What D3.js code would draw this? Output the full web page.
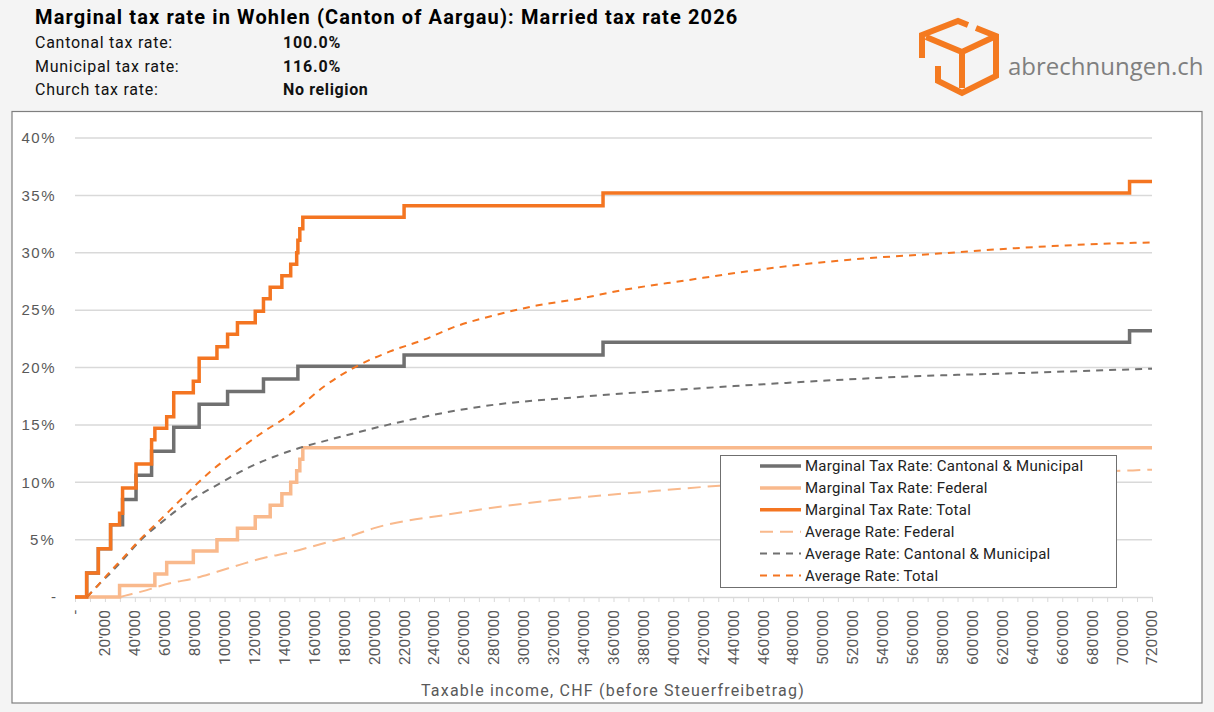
<!DOCTYPE html>
<html lang="en">
<head>
<meta charset="utf-8">
<style>
  body { margin: 0; background: #f4f4f4; }
  svg { display: block; font-family: Roboto, "DejaVu Sans", sans-serif; }
  .axis text { fill: #595959; }
</style>
</head>
<body>
<script src="https://d3js.org/d3.v7.min.js"></script>
<script>
// ---- data (income in CHF, rates in %) ----
var xTicks = d3.range(0, 720001, 20000);
var yTicks = [0, 5, 10, 15, 20, 25, 30, 35, 40];

var cmIncome = [0, 7800, 15600, 23800, 31800, 40800, 51200, 66000, 83000, 102000, 126000, 149000, 220000, 353000, 705000, 720000];
var cmRate   = [0, 2.1, 4.2, 6.3, 8.5, 10.6, 12.7, 14.8, 16.8, 17.9, 19.0, 20.1, 21.1, 22.2, 23.2, 23.2];

var fedIncome = [0, 29800, 53400, 61300, 79100, 94900, 108600, 120500, 130500, 138300, 144200, 148200, 150300, 152300, 720000];
var fedRate   = [0, 1, 2, 3, 4, 5, 6, 7, 8, 9, 10, 11, 12, 13, 13];

var totIncome = [0, 7800, 15600, 23800, 29800, 31800, 40800, 51200, 53400, 61300, 66000, 79100, 83000, 94900, 102000, 108600, 120500, 126000, 130500, 138300, 144200, 148200, 149000, 150300, 152300, 220000, 353000, 705000, 720000];
var totRate   = [0, 2.1, 4.2, 6.3, 7.3, 9.5, 11.6, 13.7, 14.7, 15.7, 17.8, 18.8, 20.8, 21.8, 22.9, 23.9, 24.9, 26.0, 27.0, 28.0, 29.0, 30.0, 31.1, 32.1, 33.1, 34.1, 35.2, 36.2, 36.2];

var avgFedIncome = [30000, 33000, 48000, 63500, 79000, 95000, 110000, 126000, 144000, 164000, 184000, 200000, 250000, 317000, 384000, 431000, 500000, 600000, 700000, 720000];
var avgFedRate   = [0, 0.1, 0.6, 1.2, 1.6, 2.2, 2.8, 3.4, 3.9, 4.6, 5.3, 6.0, 7.2, 8.4, 9.2, 9.7, 10.2, 10.7, 11.0, 11.1];

var avgCmIncome = [8000, 15600, 23800, 31800, 43400, 56800, 74700, 96900, 114800, 132600, 150400, 170000, 209000, 271600, 334000, 407500, 481000, 554000, 628000, 720000];
var avgCmRate   = [0, 1.05, 2.1, 3.2, 4.9, 6.4, 8.2, 9.9, 11.2, 12.2, 13.0, 13.7, 15.0, 16.6, 17.4, 18.1, 18.7, 19.2, 19.5, 19.9];

var avgTotIncome = [8000, 15600, 23400, 30000, 43400, 56800, 72400, 90200, 108000, 126000, 143700, 150400, 166000, 188300, 210600, 232800, 255000, 282000, 308600, 337600, 364000, 409000, 462000, 518000, 574000, 629000, 692000, 720000];
var avgTotRate   = [0, 1.05, 2.2, 3.1, 5.0, 6.7, 8.7, 10.9, 12.7, 14.4, 15.9, 16.6, 18.3, 20.1, 21.4, 22.4, 23.6, 24.6, 25.4, 26.0, 26.7, 27.6, 28.6, 29.4, 29.9, 30.4, 30.8, 30.9];

var orange = "#f47521", grey = "#707070", light = "#f9b98c";

var series = [
  {name: "Marginal Tax Rate: Cantonal & Municipal", x: cmIncome, y: cmRate, color: grey, w: 3.5, dash: null, step: true},
  {name: "Marginal Tax Rate: Federal", x: fedIncome, y: fedRate, color: light, w: 3.5, dash: null, step: true},
  {name: "Marginal Tax Rate: Total", x: totIncome, y: totRate, color: orange, w: 3.5, dash: null, step: true},
  {name: "Average Rate: Federal", x: avgFedIncome, y: avgFedRate, color: light, w: 2, dash: "13,7", step: false},
  {name: "Average Rate: Cantonal & Municipal", x: avgCmIncome, y: avgCmRate, color: grey, w: 2, dash: "7,6", step: false},
  {name: "Average Rate: Total", x: avgTotIncome, y: avgTotRate, color: orange, w: 2, dash: "7,6", step: false}
];

// widen text a little so it takes the same room as the original (narrow DIN-like) font
function spread(sel, ratio) {
  sel.each(function () {
    var n = this.textContent.length;
    var len = this.getComputedTextLength();
    if (n > 1) d3.select(this).attr("letter-spacing", (len * (ratio - 1) / (n - 1)).toFixed(2));
  });
}

var W = 1214, H = 712;
var svg = d3.select("body").append("svg").attr("width", W).attr("height", H);

// ---- header ----
var title = svg.append("text").attr("x", 35).attr("y", 24)
  .style("font-size", "20px").style("font-weight", "bold").attr("fill", "#000")
  .text("Marginal tax rate in Wohlen (Canton of Aargau): Married tax rate 2026");
spread(title, 702 / title.node().getComputedTextLength());

var info = [["Cantonal tax rate:", "100.0%"], ["Municipal tax rate:", "116.0%"], ["Church tax rate:", "No religion"]];
info.forEach(function (r, i) {
  var yy = 48 + i * 23.5;
  var a = svg.append("text").attr("x", 35).attr("y", yy).style("font-size", "16px").attr("fill", "#111").text(r[0]);
  var b = svg.append("text").attr("x", 283).attr("y", yy).style("font-size", "16px").style("font-weight", "bold").attr("fill", "#111").text(r[1]);
  spread(a, 1.1);
  spread(b, 1.08);
});

// logo
var logo = svg.append("g").attr("fill", "none").attr("stroke", "#f47a20").attr("stroke-width", 6).attr("stroke-linejoin", "miter");
logo.append("path").attr("d", "M922,58 L922,35 L958,21 L968,25");
logo.append("path").attr("d", "M976,28 L996,36 L996,76 L962,93 L938,81 L938,66");
logo.append("path").attr("d", "M926,37 L962,52 L996,36");
logo.append("path").attr("d", "M962,52 L962,88");
svg.append("text").attr("x", 1008).attr("y", 75).style("font-size", "24px").attr("fill", "#7f7f7f")
  .style("font-family", "'Open Sans', sans-serif").text("abrechnungen.ch");

// ---- chart area ----
svg.append("rect").attr("x", 12).attr("y", 111.5).attr("width", 1190).attr("height", 591.5)
  .attr("fill", "#fff").attr("stroke", "#7f7f7f").attr("stroke-width", 1.2);

var x = d3.scaleLinear().domain([0, 720000]).range([75, 1152]);
var y = d3.scaleLinear().domain([0, 40]).range([597, 138]);

// gridlines
svg.append("g").selectAll("line").data(yTicks.slice(1)).join("line")
  .attr("x1", x(0)).attr("x2", x(720000))
  .attr("y1", function (d) { return y(d); }).attr("y2", function (d) { return y(d); })
  .attr("stroke", "#d9d9d9").attr("stroke-width", 1.5);

// y axis (labels only)
var yAxis = svg.append("g").attr("class", "axis").attr("transform", "translate(62,0)")
  .call(d3.axisLeft(y).tickValues(yTicks).tickSize(0).tickPadding(6)
    .tickFormat(function (d) { return d === 0 ? "-" : d + "%"; }));
yAxis.select(".domain").remove();
yAxis.selectAll("text").style("font-size", "15px").attr("font-family", null);
spread(yAxis.selectAll("text"), 1.1);

// x axis
var xAxis = svg.append("g").attr("class", "axis").attr("transform", "translate(0," + y(0) + ")")
  .call(d3.axisBottom(x).tickValues(d3.range(0, 720001, 10000)).tickSize(5).tickSizeOuter(0).tickFormat(""));
xAxis.select(".domain").attr("stroke", "#d9d9d9").attr("stroke-width", 1.5);
xAxis.selectAll(".tick line").attr("stroke", "#d9d9d9");

svg.append("g").attr("class", "axis").selectAll("text").data(xTicks).join("text")
  .attr("transform", function (d) { return "translate(" + x(d) + ",610) rotate(-90)"; })
  .attr("text-anchor", "end").attr("dy", "0.35em").style("font-size", "15.5px")
  .text(function (d) { return d === 0 ? "-" : d3.format(",")(d).replace(/,/g, "'"); });

var xt = svg.append("text").attr("x", 613).attr("y", 696).attr("text-anchor", "middle")
  .style("font-size", "16px").attr("fill", "#595959")
  .text("Taxable income, CHF (before Steuerfreibetrag)");
spread(xt, 383 / xt.node().getComputedTextLength());

// ---- lines ----
series.forEach(function (s) {
  var pts = s.x.map(function (v, i) { return [v, s.y[i]]; });
  var line = d3.line().x(function (d) { return x(d[0]); }).y(function (d) { return y(d[1]); })
    .curve(s.step ? d3.curveStepAfter : d3.curveMonotoneX);
  svg.append("path").datum(pts).attr("d", line)
    .attr("fill", "none").attr("stroke", s.color).attr("stroke-width", s.w)
    .attr("stroke-dasharray", s.dash);
});

// ---- legend ----
var lg = svg.append("g");
lg.append("rect").attr("x", 720.5).attr("y", 455.5).attr("width", 396).attr("height", 132)
  .attr("fill", "#fff").attr("stroke", "#6f6f6f");
series.forEach(function (s, i) {
  var yy = 466 + i * 21.9;
  lg.append("line").attr("x1", 760).attr("x2", 801).attr("y1", yy).attr("y2", yy)
    .attr("stroke", s.color).attr("stroke-width", s.step ? 3.5 : 2).attr("stroke-dasharray", s.dash);
  lg.append("text").attr("x", 805).attr("y", yy).attr("dy", "0.35em")
    .style("font-size", "15px").attr("fill", "#222").text(s.name);
});
var lgText = lg.selectAll("text");
spread(lgText, 278 / lgText.node().getComputedTextLength());
</script>
</body>
</html>
